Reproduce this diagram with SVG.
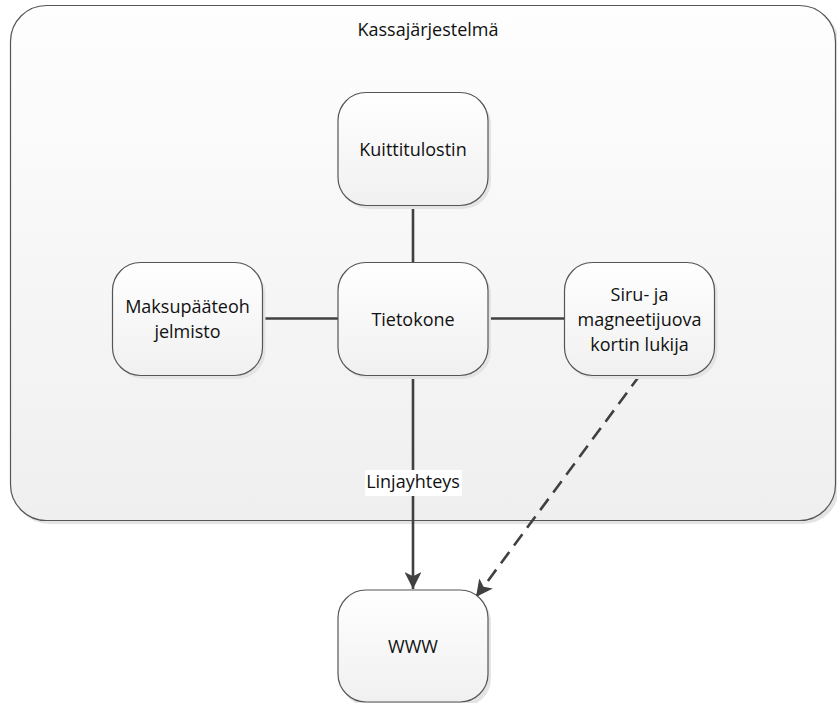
<svg xmlns="http://www.w3.org/2000/svg" width="837" height="703" viewBox="0 0 837 703">
  <defs>
    <linearGradient id="boundaryFill" x1="0" y1="0" x2="0" y2="1">
      <stop offset="0" stop-color="#fefefe"/>
      <stop offset="1" stop-color="#efefef"/>
    </linearGradient>
    <linearGradient id="nodeFill" x1="0" y1="0" x2="0" y2="1">
      <stop offset="0" stop-color="#ffffff"/>
      <stop offset="1" stop-color="#f0f0f0"/>
    </linearGradient>
    <marker id="arrow" viewBox="0 0 10 10" refX="10" refY="5" markerWidth="6.5" markerHeight="6.5" orient="auto" markerUnits="strokeWidth">
      <path d="M0,0 L10,5 L0,10 L2.5,5 Z" fill="#404040"/>
    </marker>
  </defs>
  <style>
    .shadow { fill: #e4e4e4; }
    .node { fill: url(#nodeFill); stroke: #555; stroke-width: 1.2; }
    .label { font-family: "Open Sans", "Liberation Sans", sans-serif; font-size: 18px; fill: #111; text-anchor: middle; }
    .link { stroke: #404040; stroke-width: 2.6; fill: none; }
  </style>

  <!-- system boundary -->
  <g id="kassajarjestelma">
    <rect x="13" y="8" width="826" height="516" rx="36" class="shadow"/>
    <rect x="10.5" y="5.5" width="825" height="515" rx="36" fill="url(#boundaryFill)" stroke="#555" stroke-width="1.2"/>
    <text x="428" y="36" class="label">Kassajärjestelmä</text>
  </g>

  <!-- connectors -->
  <g id="connectors">
    <line x1="413" y1="205" x2="413" y2="262" class="link"/>
    <line x1="263" y1="318.5" x2="338" y2="318.5" class="link"/>
    <line x1="488" y1="318.5" x2="564" y2="318.5" class="link"/>
    <line x1="413" y1="375" x2="413" y2="589" class="link" marker-end="url(#arrow)"/>
    <line x1="640" y1="375" x2="476" y2="597" class="link" stroke-dasharray="14 8" marker-end="url(#arrow)"/>
    <rect x="365" y="470" width="97" height="26" fill="#fff"/>
    <text x="413" y="488" class="label">Linjayhteys</text>
  </g>

  <g id="kuittitulostin">
    <rect x="341" y="96" width="150" height="113" rx="28" class="shadow"/>
    <rect x="338" y="92.5" width="150" height="113" rx="28" class="node"/>
    <text x="413" y="156" class="label">Kuittitulostin</text>
  </g>

  <g id="maksupaateohjelmisto">
    <rect x="115.5" y="266" width="150" height="113" rx="28" class="shadow"/>
    <rect x="112.5" y="262.5" width="150" height="113" rx="28" class="node"/>
    <text x="187.5" y="313" class="label">Maksupääteoh</text>
    <text x="187.5" y="338" class="label">jelmisto</text>
  </g>

  <g id="tietokone">
    <rect x="341" y="266" width="150" height="113" rx="28" class="shadow"/>
    <rect x="338" y="262.5" width="150" height="113" rx="28" class="node"/>
    <text x="413" y="326" class="label">Tietokone</text>
  </g>

  <g id="kortinlukija">
    <rect x="567.5" y="266" width="150" height="113" rx="28" class="shadow"/>
    <rect x="564.5" y="262.5" width="150" height="113" rx="28" class="node"/>
    <text x="639.5" y="301" class="label">Siru- ja</text>
    <text x="639.5" y="326" class="label">magneetijuova</text>
    <text x="639.5" y="351" class="label">kortin lukija</text>
  </g>

  <g id="www">
    <rect x="341" y="593.5" width="150" height="113" rx="28" class="shadow"/>
    <rect x="338" y="590" width="150" height="112" rx="28" class="node"/>
    <text x="413" y="653" class="label" font-size="19">WWW</text>
  </g>
</svg>
